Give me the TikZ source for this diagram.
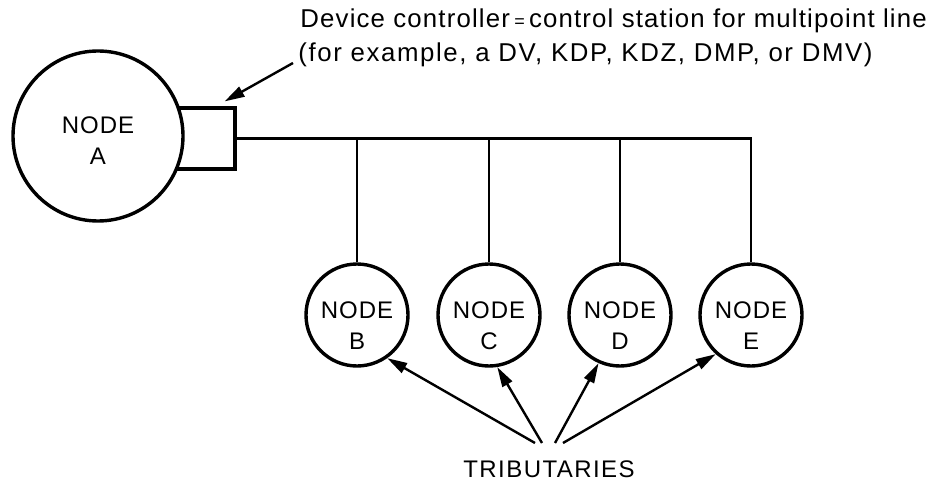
\documentclass[tikz,border=0pt]{standalone}
\usepackage{fontspec}
\setmainfont{Liberation Sans}
\usetikzlibrary{positioning}
\usetikzlibrary{arrows.meta}
\tikzset{
    nodebig/.style = {circle, line width=1.7pt, draw=black, fill=white, minimum size=85pt, inner sep=0pt},
    nodesmall/.style = {circle, line width=1.7pt, draw=black, fill=white, minimum size=51pt, inner sep=0pt},
    nodetext/.style = {align=center, font=\fontsize{12}{15.5}\selectfont\addfontfeature{LetterSpace=4}},
    ctrlbox/.style = {rectangle, line width=1.6pt, draw=black, minimum width=31.5pt, minimum height=30.5pt, inner sep=0pt},
    note/.style = {font=\fontsize{12.9}{16}\selectfont\addfontfeature{LetterSpace=#1}, inner sep=0pt},
    edgen/.style = {line width=1.2pt},
    edgea/.style = {-{Triangle[length=10pt,width=5.5pt]}, line width=1.2pt}
}
\begin{document}
\begin{tikzpicture}[x=0.5pt, y=-0.5pt]
  \useasboundingbox (0,0) rectangle (937,481);

  % device controller and node A
  \node[ctrlbox] (ctrl) at (203.5,138.5) {};
  \node[nodebig, label={[nodetext, yshift=-2.25pt]center:NODE\\A}] (nA) at (98,136) {};

  % tributaries
  \node[nodesmall, label={[nodetext, yshift=-5.5pt]center:NODE\\B}] (nB) at (357,315) {};
  \node[nodesmall, label={[nodetext, yshift=-5.5pt]center:NODE\\C}] (nC) at (489,315) {};
  \node[nodesmall, label={[nodetext, yshift=-5.5pt]center:NODE\\D}] (nD) at (620,315) {};
  \node[nodesmall, label={[nodetext, yshift=-5.5pt]center:NODE\\E}] (nE) at (751,315) {};

  % multipoint line
  \draw[edgen] (ctrl.east) -- (ctrl.east -| nE.north) -- (nE.north);
  \draw[edgen] (nB.north) -- (nB.north |- ctrl.east);
  \draw[edgen] (nC.north) -- (nC.north |- ctrl.east);
  \draw[edgen] (nD.north) -- (nD.north |- ctrl.east);

  % texts
  \node[note=4.5, anchor=base west] (l1) at (300,28) {Device controller\,{\small=}\,control station for multipoint line};
  \node[note=6.2, anchor=base west] (l2) at (298,62) {(for example, a DV, KDP, KDZ, DMP, or DMV)};
  \node[nodetext, font=\fontsize{12}{14}\selectfont\addfontfeature{LetterSpace=6}, anchor=base] (trib) at (549,477) {TRIBUTARIES};

  % arrows
  \coordinate (ctrltail) at (293,63);
  \draw[edgea] (ctrltail) -- ([shift={(-12,-5)}]ctrl.north east);
  \coordinate (tB) at (535,443);
  \coordinate (tC) at (542,443);
  \coordinate (tD) at (555,443);
  \coordinate (tE) at (563,443);
  \draw[edgea] (tB) -- (nB.-55);
  \draw[edgea] (tC) -- (nC.-81);
  \draw[edgea] (tD) -- (nD.-114);
  \draw[edgea] (tE) -- (nE.-132);
\end{tikzpicture}
\end{document}
